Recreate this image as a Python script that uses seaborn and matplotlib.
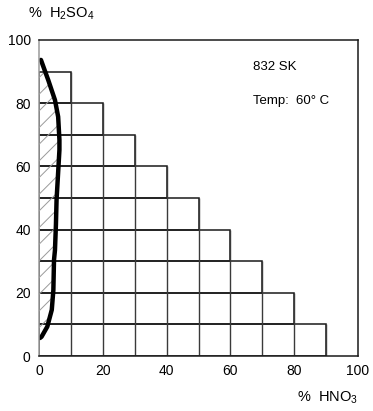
import matplotlib
matplotlib.use("Agg")
import matplotlib.pyplot as plt
import seaborn as sns
import pandas as pd

# Corrosion diagram for 832 SK in H2SO4 / HNO3 mixtures at 60 C
row_bottoms = [0, 10, 20, 30, 40, 50, 60, 70, 80]      # % H2SO4 at bottom of each test row
row_extents = [90, 80, 70, 60, 50, 40, 30, 20, 10]     # % HNO3 reached in that row
col_lines = [10, 20, 30, 40, 50, 60, 70, 80, 90]       # % HNO3 of inner column boundaries
col_tops = [90, 80, 70, 60, 50, 40, 30, 20, 10]        # % H2SO4 reached by each column boundary

# Boundary of the region where the alloy is attacked (hatched)
curve_h2so4 = [5.7, 6.1, 9.3, 14.6, 20.9, 30.4, 33.5, 41.5, 49.4, 65.2, 68.4, 75.7, 81.0, 87.3, 93.7]
curve_hno3 = [0.3, 0.8, 2.6, 4.0, 4.5, 4.7, 5.0, 5.3, 5.5, 6.4, 6.4, 6.0, 5.0, 2.9, 0.6]

ticks = [0, 20, 40, 60, 80, 100]

sns.set_theme(style="white")
plt.rcParams["font.family"] = ["Liberation Sans", "DejaVu Sans"]
plt.rcParams["mathtext.fontset"] = "custom"
plt.rcParams["mathtext.rm"] = "Liberation Sans"
plt.rcParams["mathtext.it"] = "Liberation Sans"
plt.rcParams["hatch.color"] = "#9a9a9a"
plt.rcParams["hatch.linewidth"] = 0.7

fig = plt.figure(figsize=(3.73, 4.11), dpi=100)
ax = fig.add_axes([0.1046, 0.1338, 0.8552, 0.7689])

ink = "#1a1a1a"

# Staircase of test cells
ax.barh(row_bottoms, row_extents, height=10, left=0, align="edge",
        facecolor="none", edgecolor=ink, linewidth=1.1)
ax.vlines(col_lines, 0, col_tops, color="#3a3a3a", linewidth=1.0)

# Hatched attack region and its boundary
ax.fill_betweenx(curve_h2so4, 0, curve_hno3, facecolor="none",
                 edgecolor="#9a9a9a", hatch="//", linewidth=0)
curve = pd.DataFrame({"HNO3": curve_hno3, "H2SO4": curve_h2so4})
sns.lineplot(data=curve, x="HNO3", y="H2SO4", sort=False, estimator=None,
             color="black", linewidth=3.2, solid_capstyle="round",
             solid_joinstyle="round", ax=ax)

ax.set_xlim(0, 100)
ax.set_ylim(0, 100)
ax.set_xticks(ticks)
ax.set_yticks(ticks)
ax.set_xticklabels([str(t) for t in ticks])
ax.set_yticklabels([str(t) for t in ticks])
ax.tick_params(length=0, labelsize=10, colors="black", pad=6)
ax.set_xlabel("")
ax.set_ylabel("")
for side in ["left", "right", "top", "bottom"]:
    ax.spines[side].set_visible(True)
    ax.spines[side].set_color(ink)
    ax.spines[side].set_linewidth(1.1)
ax.spines["left"].set_color("#9a9a9a")

ax.text(67, 91.5, "832 SK", fontsize=9.5, va="center", ha="left", color="black")
ax.text(67, 80.7, "Temp:  60° C", fontsize=9.5, va="center", ha="left", color="black")

fig.text(0.075, 0.966, "%  H$_2$SO$_4$", fontsize=10.5, ha="left", va="center", color="black")
fig.text(0.96, 0.032, "%  HNO$_3$", fontsize=10.5, ha="right", va="center", color="black")

fig.savefig("out.png", dpi=100)
